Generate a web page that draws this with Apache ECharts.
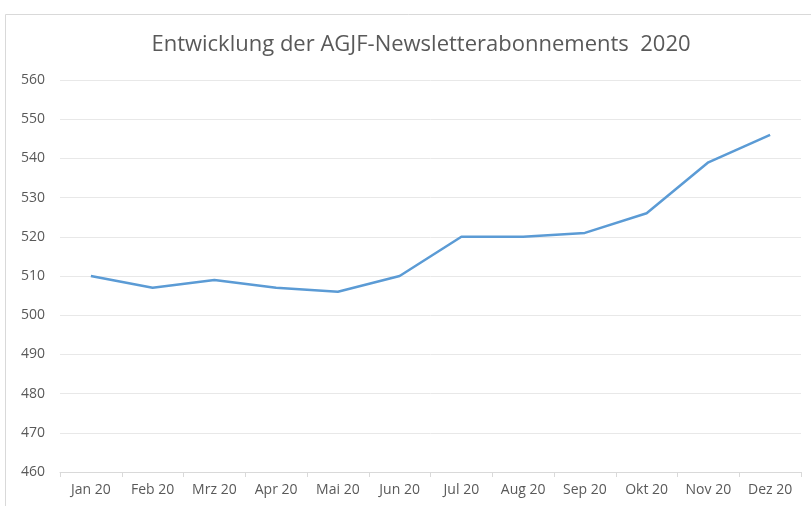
<!DOCTYPE html>
<html>
<head>
<meta charset="utf-8">
<script src="https://cdn.jsdelivr.net/npm/echarts@6/dist/echarts.min.js"></script>
<style>
  html, body { margin: 0; padding: 0; background: #fff; }
  #chart { width: 811px; height: 506px; }
</style>
</head>
<body>
<div id="chart"></div>
<script>
"use strict";

var months = ["Jan 20", "Feb 20", "Mrz 20", "Apr 20", "Mai 20", "Jun 20",
  "Jul 20", "Aug 20", "Sep 20", "Okt 20", "Nov 20", "Dez 20"];
var abonnenten = [510, 507, 509, 507, 506, 510, 520, 520, 521, 526, 539, 546];
var yMin = 460;
var yMax = 560;
var yStep = 10;

var chart = echarts.init(document.getElementById("chart"));
var option = {
  animation: false,
  backgroundColor: "#fff",
  title: {
    text: "Entwicklung der AGJF-Newsletterabonnements  2020",
    left: 416,
    textAlign: "center",
    top: 29,
    textStyle: {
      fontFamily: "Open Sans",
      fontWeight: "normal",
      fontSize: 22,
      color: "#595959"
    }
  },
  // rahmen ums diagramm
  graphic: [{
    type: "rect",
    shape: { x: 5.5, y: 14.5, width: 820, height: 520 },
    style: { fill: "none", stroke: "#d9d9d9", lineWidth: 1 },
    silent: true
  }],
  grid: {
    left: 60,
    right: 10,
    top: 80,
    bottom: 34
  },
  xAxis: {
    type: "category",
    data: months,
    boundaryGap: true,
    axisLine: { lineStyle: { color: "#d9d9d9" } },
    axisTick: { show: true, length: 5, lineStyle: { color: "#d9d9d9" } },
    axisLabel: {
      fontFamily: "Open Sans",
      fontSize: 14,
      color: "#595959",
      margin: 11,
      interval: 0
    }
  },
  yAxis: {
    type: "value",
    min: yMin,
    max: yMax,
    interval: yStep,
    axisLine: { show: false },
    axisTick: { show: false },
    splitLine: { lineStyle: { color: "#e8e8e8", width: 1 } },
    axisLabel: {
      fontFamily: "Open Sans",
      fontSize: 14,
      color: "#595959",
      margin: 15
    }
  },
  series: [{
    type: "line",
    data: abonnenten,
    showSymbol: false,
    lineStyle: { color: "#5b9bd5", width: 2.5 },
    itemStyle: { color: "#5b9bd5" }
  }]
};
chart.setOption(option);
</script>
</body>
</html>
